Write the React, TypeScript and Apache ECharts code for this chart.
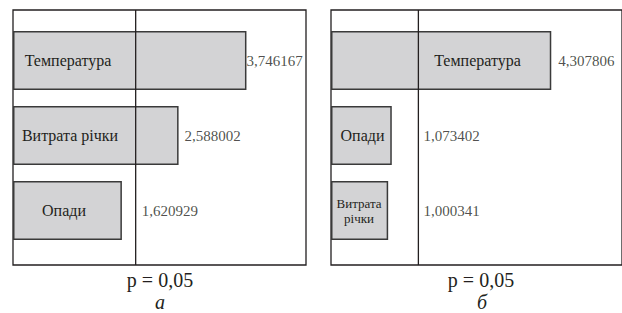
import React, { useEffect, useRef } from "react";
import * as echarts from "echarts";

// Panel а
const categoriesA = ["Температура", "Витрата річки", "Опади"];
const valuesA = [3.746167, 2.588002, 1.620929];
const thresholdA = 1.856;
const axisMinA = -0.237;
const axisMaxA = 4.762;

// Panel б
const categoriesB = ["Температура", "Опади", "Витрата\nрічки"];
const valuesB = [4.307806, 1.073402, 1.000341];
const thresholdB = 1.613;
const axisMinB = -0.159;
const axisMaxB = 5.742;

const pLabel = "p = 0,05";
const panelLetters = ["а", "б"];

// label styling (layout only)
const catLabelOffsetA = [55, 57, 51];
const catLabelOffsetB = [146.5, 31.5, 28];
const catFontA = [16, 16, 16];
const catFontB = [16, 16, 13];
const valueGapA = [0, 6, 6];
const valueGapB = [7, 5, 5];

const TEXT = "#231f20";
const FONT = "Liberation Serif";

function fmt(v: number) {
  return v.toFixed(6).replace(".", ",");
}

export default function App() {
  const ref = useRef<HTMLDivElement>(null);
  useEffect(() => {
    if (!ref.current) return;
    const chart = echarts.init(ref.current, null, { renderer: "svg" });

    const makePanel = (
      idx: number,
      cats: string[],
      vals: number[],
      thr: number,
      offs: number[],
      fonts: number[],
      gaps: number[]
    ) => {
      const inner = idx * 2 + 1;
      const outer = idx * 2;
      const bar = {
        type: "bar",
        xAxisIndex: inner,
        yAxisIndex: inner,
        barWidth: 59,
        z: 2,
        label: { fontFamily: FONT, color: TEXT },
        data: vals.map((v, i) => ({
          value: v,
          label: {
            show: true,
            position: [offs[i], "50%"],
            align: "center",
            verticalAlign: "middle",
            formatter: cats[i],
            fontFamily: FONT,
            fontSize: fonts[i],
            lineHeight: fonts[i] < 16 ? 15 : 18,
            color: TEXT,
          },
        })),
        itemStyle: { color: "#d3d3d5", borderColor: "#3a3a3a", borderWidth: 1.5 },
      };
      const labels = {
        type: "scatter",
        xAxisIndex: inner,
        yAxisIndex: inner,
        symbolSize: 0,
        z: 6,
        label: { fontFamily: FONT, color: TEXT },
        data: vals.map((v, i) => ({
          value: [Math.max(v, thr), cats[i]],
          label: {
            show: true,
            position: "right",
            distance: gaps[i],
            formatter: fmt(v),
            fontFamily: FONT,
            fontSize: 15,
            color: TEXT,
          },
        })),
      };
      const thrLine = {
        type: "line",
        xAxisIndex: outer,
        yAxisIndex: outer,
        symbol: "none",
        z: 5,
        lineStyle: { color: TEXT, width: 1.3 },
        data: [
          [thr, 0],
          [thr, 1],
        ],
      };
      return [bar, labels, thrLine];
    };

    const hiddenAxis = {
      axisLine: { show: false },
      axisTick: { show: false },
      axisLabel: { show: false },
      splitLine: { show: false },
    };

    chart.setOption({
      animation: false,
      textStyle: { fontFamily: FONT },
      grid: [
        { left: 13, top: 10, width: 293, height: 255, show: true, borderColor: TEXT, borderWidth: 1.3, backgroundColor: "transparent" },
        { left: 13, top: 23, width: 293, height: 225 },
        { left: 331, top: 10, width: 293, height: 255, show: true, borderColor: TEXT, borderWidth: 1.3, backgroundColor: "transparent" },
        { left: 331, top: 23, width: 293, height: 225 },
      ],
      xAxis: [
        { type: "value", gridIndex: 0, min: axisMinA, max: axisMaxA, ...hiddenAxis },
        { type: "value", gridIndex: 1, min: axisMinA, max: axisMaxA, startValue: axisMinA, ...hiddenAxis },
        { type: "value", gridIndex: 2, min: axisMinB, max: axisMaxB, ...hiddenAxis },
        { type: "value", gridIndex: 3, min: axisMinB, max: axisMaxB, startValue: axisMinB, ...hiddenAxis },
      ],
      yAxis: [
        { type: "value", gridIndex: 0, min: 0, max: 1, ...hiddenAxis },
        { type: "category", gridIndex: 1, inverse: true, data: categoriesA, ...hiddenAxis },
        { type: "value", gridIndex: 2, min: 0, max: 1, ...hiddenAxis },
        { type: "category", gridIndex: 3, inverse: true, data: categoriesB, ...hiddenAxis },
      ],
      series: [
        ...makePanel(0, categoriesA, valuesA, thresholdA, catLabelOffsetA, catFontA, valueGapA),
        ...makePanel(1, categoriesB, valuesB, thresholdB, catLabelOffsetB, catFontB, valueGapB),
      ],
      graphic: [
        { type: "text", x: 160, y: 280, style: { text: pLabel, fontFamily: FONT, fontSize: 20, fill: TEXT, align: "center", verticalAlign: "middle" } },
        { type: "text", x: 481, y: 280, style: { text: pLabel, fontFamily: FONT, fontSize: 20, fill: TEXT, align: "center", verticalAlign: "middle" } },
        { type: "text", x: 160, y: 302, style: { text: panelLetters[0], fontFamily: FONT, fontSize: 20, fontStyle: "italic", fill: TEXT, align: "center", verticalAlign: "middle" } },
        { type: "text", x: 482, y: 302, style: { text: panelLetters[1], fontFamily: FONT, fontSize: 20, fontStyle: "italic", fill: TEXT, align: "center", verticalAlign: "middle" } },
      ],
    });
    return () => chart.dispose();
  }, []);
  return (
    <div
      ref={ref}
      style={{ position: "absolute", left: 0, top: 0, width: 622, height: 313, background: "#fff" }}
    />
  );
}
